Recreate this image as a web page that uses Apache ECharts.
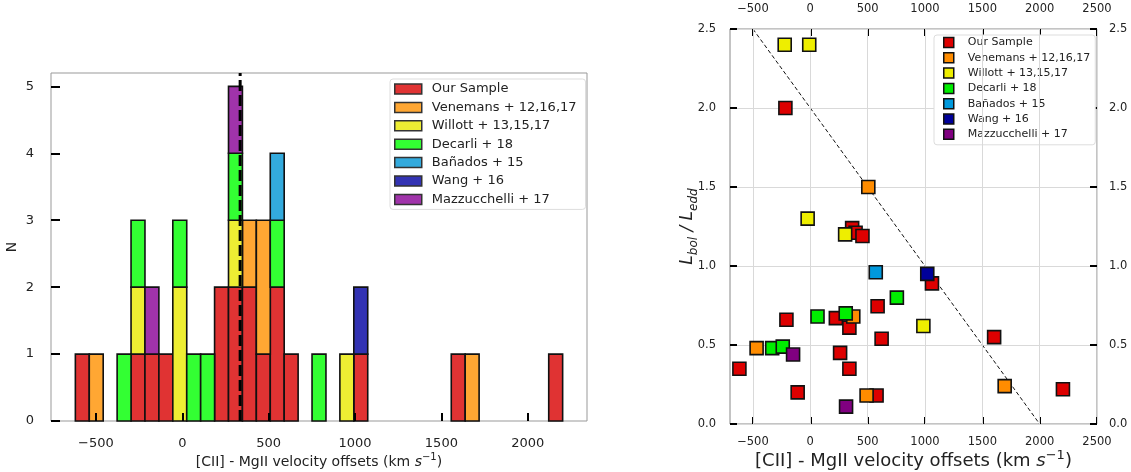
<!DOCTYPE html>
<html>
<head>
<meta charset="utf-8">
<script src="https://cdn.jsdelivr.net/npm/echarts@6/dist/echarts.min.js"></script>
<style>
  html, body { margin: 0; padding: 0; background: #fff; }
  #chart { width: 1131px; height: 472px; }
</style>
</head>
<body>
<div id="chart"></div>
<script>
// Samples shown in both panels
const sampleNames = ['Our Sample', 'Venemans + 12,16,17', 'Willott + 13,15,17', 'Decarli + 18',
                     'Bañados + 15', 'Wang + 16', 'Mazzucchelli + 17'];

// Histogram binning (km/s)
const binStart = -619;
const binWidth = 80.6;

// Counts per bin (35 bins), one array per sample, stacked in this order
const countsOurSample = [1,0,0,0,1,1,1,0,0,0,2,2,2,1,2,1,0,0,0,0,1,0,0,0,0,0,0,1,0,0,0,0,0,0,1];
const countsVenemans  = [0,1,0,0,0,0,0,0,0,0,0,0,1,2,0,0,0,0,0,0,0,0,0,0,0,0,0,0,1,0,0,0,0,0,0];
const countsWillott   = [0,0,0,0,1,0,0,2,0,0,0,1,0,0,0,0,0,0,0,1,0,0,0,0,0,0,0,0,0,0,0,0,0,0,0];
const countsDecarli   = [0,0,0,1,1,0,0,1,1,1,0,1,0,0,1,0,0,1,0,0,0,0,0,0,0,0,0,0,0,0,0,0,0,0,0];
const countsBanados   = [0,0,0,0,0,0,0,0,0,0,0,0,0,0,1,0,0,0,0,0,0,0,0,0,0,0,0,0,0,0,0,0,0,0,0];
const countsWang      = [0,0,0,0,0,0,0,0,0,0,0,0,0,0,0,0,0,0,0,0,1,0,0,0,0,0,0,0,0,0,0,0,0,0,0];
const countsMazzu     = [0,0,0,0,0,1,0,0,0,0,0,1,0,0,0,0,0,0,0,0,0,0,0,0,0,0,0,0,0,0,0,0,0,0,0];

// Mean velocity offset marked by the dashed line
const meanOffset = 335;

// Velocity offset (km/s) vs Eddington ratio
const scatterOurSample = [[-618,0.35],[-217,2.00],[-208,0.66],[-110,0.20],[223,0.67],[260,0.45],
  [341,0.61],[341,0.35],[365,1.24],[395,1.21],[455,1.19],[587,0.745],[578,0.18],[622,0.54],
  [1061,0.89],[1603,0.55],[2203,0.22]];
const scatterVenemans = [[-468,0.48],[375,0.68],[491,0.18],[506,1.50],[1695,0.24]];
const scatterWillott  = [[-223,2.40],[-9,2.40],[-23,1.30],[304,1.20],[986,0.62]];
const scatterDecarli  = [[-332,0.48],[-240,0.49],[63,0.68],[309,0.70],[755,0.80]];
const scatterBanados  = [[571,0.96]];
const scatterWang     = [[1020,0.95]];
const scatterMazzu    = [[-150,0.44],[312,0.11]];

// Dashed reference line in the right panel
const refLine = [[-500, 2.5], [2000, 0]];

// Tick positions
const histXTicks = [-500, 0, 500, 1000, 1500, 2000];
const histYTicks = [0, 1, 2, 3, 4, 5];
const scatXTicks = [-500, 0, 500, 1000, 1500, 2000, 2500];

const histColors = ['#e03333', '#ffa733', '#eeee33', '#33ff33', '#33aadd', '#3333b3', '#a033aa'];
const scatColors = ['#dd0000', '#ff8c00', '#eeee00', '#00ee00', '#0099dd', '#000099', '#800080'];

const FONT = 'DejaVu Sans';
const histCounts = [countsOurSample, countsVenemans, countsWillott, countsDecarli,
                    countsBanados, countsWang, countsMazzu];
const scatData = [scatterOurSample, scatterVenemans, scatterWillott, scatterDecarli,
                  scatterBanados, scatterWang, scatterMazzu];

// Plain integers with a true minus sign
const fmtInt = v => (v < 0 ? '\u2212' + Math.abs(v) : String(v));

// Build stacked rectangles: [x0, x1, y0, y1]
const stackBase = new Array(countsOurSample.length).fill(0);
const histSeries = histCounts.map((counts, si) => {
  const rects = [];
  counts.forEach((c, k) => {
    if (c > 0) {
      const x0 = binStart + k * binWidth;
      rects.push([x0, x0 + binWidth, stackBase[k], stackBase[k] + c]);
      stackBase[k] += c;
    }
  });
  return {
    type: 'custom',
    name: sampleNames[si],
    xAxisIndex: 0, yAxisIndex: 0,
    itemStyle: { color: histColors[si], borderColor: '#333', borderWidth: 1.5 },
    encode: { x: [0, 1], y: [2, 3] },
    data: rects,
    z: 2,
    renderItem: (params, api) => {
      const a = api.coord([api.value(0), api.value(3)]);
      const b = api.coord([api.value(1), api.value(2)]);
      return {
        type: 'rect',
        shape: { x: a[0], y: a[1], width: b[0] - a[0], height: b[1] - a[1] },
        style: { fill: histColors[si], stroke: '#111', lineWidth: 1.6 }
      };
    }
  };
});

const scatSeries = scatData.map((d, si) => ({
  type: 'scatter',
  name: sampleNames[si],
  xAxisIndex: 1, yAxisIndex: 1,
  symbol: 'rect',
  symbolSize: 13,
  itemStyle: { color: scatColors[si], borderColor: '#111', borderWidth: 1.6, opacity: 1 },
  data: d,
  z: 5
}));

const tickStyle = { show: true, inside: true, length: 8, lineStyle: { color: '#000', width: 2 } };
const labelStyle = { color: '#222', fontFamily: FONT };
const noLine = { show: false, onZero: false };

const xName = (fs) => ({
  name: '{n|[CII] - MgII velocity offsets (km }{i|s}{u|−1}{n|)}',
  nameLocation: 'middle',
  nameMoveOverlap: false,
  nameTextStyle: {
    rich: {
      n: { fontSize: fs, fontFamily: FONT, color: '#222', lineHeight: fs + 6 },
      i: { fontSize: fs, fontFamily: FONT, fontStyle: 'italic', color: '#222', lineHeight: fs + 6 },
      u: { fontSize: Math.round(fs * 0.7), fontFamily: FONT, color: '#222', lineHeight: fs + 6, verticalAlign: 'top' }
    }
  }
});

const option = {
  animation: false,
  backgroundColor: '#fff',
  grid: [
    { left: 51, top: 73, width: 536, height: 348, containLabel: false, outerBoundsMode: 'none',
      show: true, borderColor: '#999', borderWidth: 1, backgroundColor: 'transparent' },
    { left: 730, top: 29, width: 367, height: 395, containLabel: false, outerBoundsMode: 'none',
      show: true, borderColor: '#888', borderWidth: 1, backgroundColor: 'transparent' }
  ],
  xAxis: [
    Object.assign({
      gridIndex: 0, type: 'value', min: -760, max: 2343, z: 10,
      nameGap: 31,
      axisLine: noLine,
      axisTick: Object.assign({}, tickStyle, { customValues: histXTicks }),
      axisLabel: Object.assign({}, labelStyle, { fontSize: 13, margin: 16, customValues: histXTicks, formatter: fmtInt }),
      splitLine: { show: false }
    }, xName(14)),
    Object.assign({
      gridIndex: 1, type: 'value', min: -700, max: 2500, position: 'bottom',
      nameGap: 25,
      axisLine: noLine,
      axisTick: Object.assign({}, tickStyle, { length: 7, customValues: scatXTicks }),
      axisLabel: Object.assign({}, labelStyle, { fontSize: 11.5, margin: 12, customValues: scatXTicks, formatter: fmtInt }),
      splitLine: { show: false }
    }, xName(18)),
    {
      gridIndex: 1, type: 'value', min: -700, max: 2500, position: 'top',
      axisLine: noLine,
      axisTick: Object.assign({}, tickStyle, { length: 7, customValues: scatXTicks }),
      axisLabel: Object.assign({}, labelStyle, { fontSize: 11.5, margin: 14, customValues: scatXTicks, formatter: fmtInt }),
      splitLine: { show: false }
    }
  ],
  yAxis: [
    {
      gridIndex: 0, type: 'value', min: 0, max: 5.2, z: 10,
      name: 'N', nameLocation: 'middle', nameGap: 32, nameMoveOverlap: false,
      nameTextStyle: { fontSize: 14, fontFamily: FONT, color: '#222' },
      axisLine: noLine,
      axisTick: Object.assign({}, tickStyle, { length: 9, customValues: histYTicks }),
      axisLabel: Object.assign({}, labelStyle, { fontSize: 13, margin: 17, customValues: histYTicks }),
      splitLine: { show: false }
    },
    {
      gridIndex: 1, type: 'value', min: 0, max: 2.5, interval: 0.5, position: 'left',
      name: '{i|L}{s|bol}{i| / L}{s|edd}', nameLocation: 'middle', nameGap: 30, nameMoveOverlap: false,
      nameTextStyle: {
        rich: {
          i: { fontSize: 17, fontFamily: FONT, fontStyle: 'italic', color: '#222', lineHeight: 24 },
          s: { fontSize: 12, fontFamily: FONT, fontStyle: 'italic', color: '#222', lineHeight: 24, verticalAlign: 'bottom' }
        }
      },
      axisLine: noLine,
      axisTick: Object.assign({}, tickStyle, { length: 7 }),
      axisLabel: Object.assign({}, labelStyle, { fontSize: 11.5, margin: 14, formatter: v => v.toFixed(1) }),
      splitLine: { show: true, lineStyle: { color: '#d9d9d9', width: 1 } }
    },
    {
      gridIndex: 1, type: 'value', min: 0, max: 2.5, interval: 0.5, position: 'right',
      axisLine: noLine,
      axisTick: Object.assign({}, tickStyle, { length: 7 }),
      axisLabel: Object.assign({}, labelStyle, { fontSize: 11.5, margin: 12, formatter: v => v.toFixed(1) }),
      splitLine: { show: false }
    }
  ],
  legend: [
    {
      orient: 'vertical', left: 390, top: 79,
      itemWidth: 27, itemHeight: 10, itemGap: 4.4,
      padding: [3, 9, 3, 4],
      borderColor: '#ddd', borderWidth: 1, borderRadius: 3, backgroundColor: '#fff',
      selectedMode: false,
      textStyle: { fontSize: 13, lineHeight: 14, fontFamily: FONT, color: '#222', padding: [0, 0, 0, 5] },
      data: sampleNames.map((n, i) => ({
        name: n, icon: 'rect',
        itemStyle: { color: histColors[i], borderColor: '#333', borderWidth: 1.5 }
      }))
    },
    {
      orient: 'vertical', left: 934, top: 35,
      itemWidth: 10, itemHeight: 10, itemGap: 2.3,
      padding: [1, 5, 4, 9],
      borderColor: '#ddd', borderWidth: 1, borderRadius: 3, backgroundColor: '#fff',
      selectedMode: false,
      textStyle: { fontSize: 11, lineHeight: 13, fontFamily: FONT, color: '#222', padding: [0, 0, 0, 9] },
      data: sampleNames.map((n, i) => ({
        name: n, icon: 'rect',
        itemStyle: { color: scatColors[i], borderColor: '#111', borderWidth: 1.5 }
      }))
    }
  ],
  series: [
    ...histSeries,
    {
      type: 'line', name: 'mean', xAxisIndex: 0, yAxisIndex: 0,
      data: [[meanOffset, 0], [meanOffset, 5.2]],
      symbol: 'none', silent: true, z: 4,
      lineStyle: { color: '#000', width: 3, type: [11, 4] }
    },
    {
      type: 'line', name: 'relation', xAxisIndex: 1, yAxisIndex: 1,
      data: refLine, symbol: 'none', silent: true, z: 3,
      lineStyle: { color: '#111', width: 1, type: [4, 2.5] },
      markLine: {
        silent: true, symbol: 'none', label: { show: false },
        lineStyle: { color: '#d9d9d9', width: 1, type: 'solid' },
        data: scatXTicks.map(v => ({ xAxis: v }))
      }
    },
    ...scatSeries
  ]
};

echarts.init(document.getElementById('chart')).setOption(option);
</script>
</body>
</html>
